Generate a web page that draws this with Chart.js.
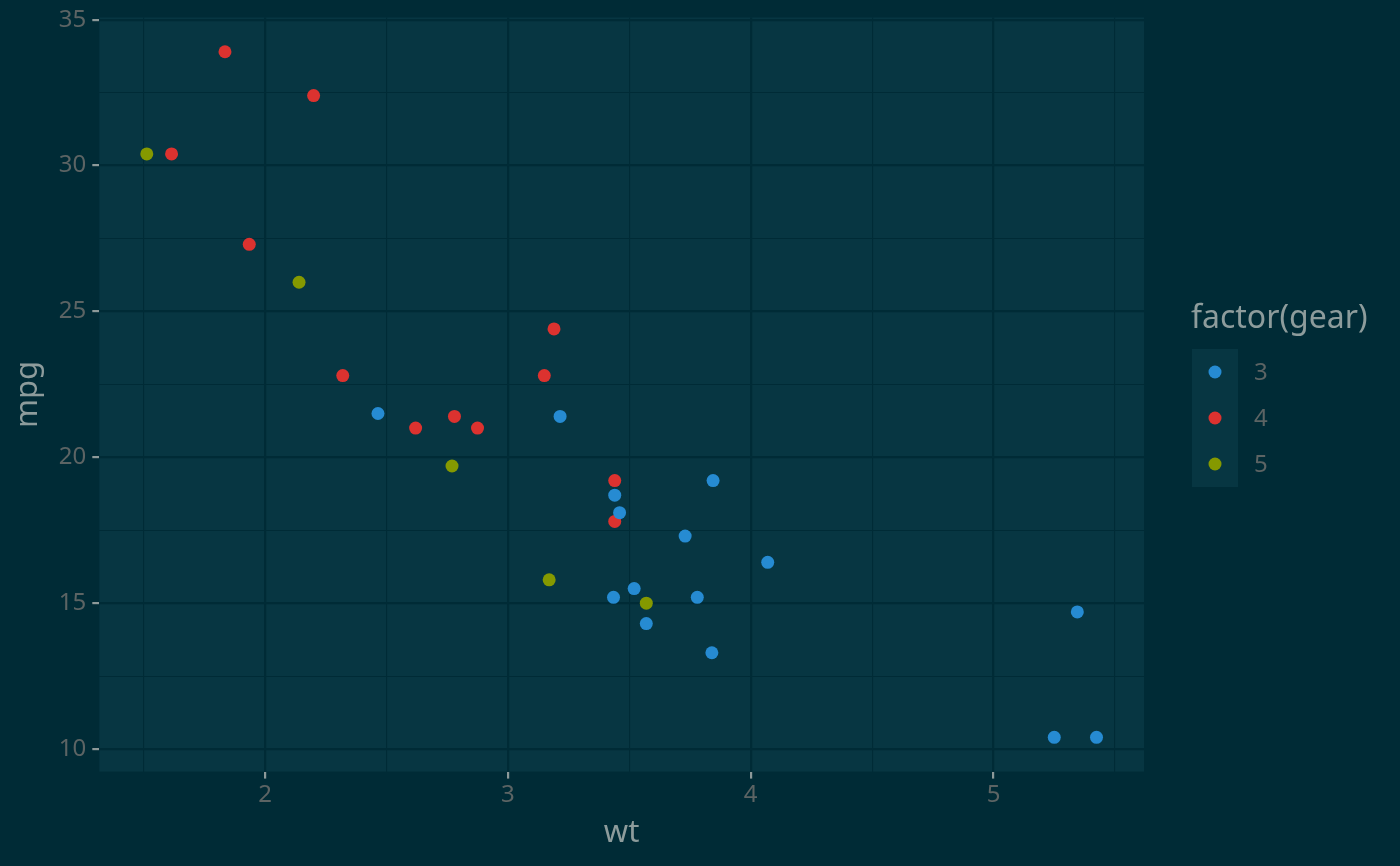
<!DOCTYPE html>
<html>
<head>
<meta charset="utf-8">
<script src="https://cdn.jsdelivr.net/npm/chart.js@4"></script>
<style>
  html, body { margin: 0; padding: 0; background: #002b36; }
  #wrap { width: 1400px; height: 866px; }
</style>
</head>
<body>
<div id="wrap"><canvas id="chart" width="1400" height="866"></canvas></div>
<script>
// mtcars: wt vs mpg, grouped by gear
const gearLevels = ['3', '4', '5'];
const gearColors = ['#268bd2', '#dc322f', '#859900'];

const wtGear3 = [3.215, 3.440, 3.460, 3.570, 4.070, 3.730, 3.780, 5.250, 5.424, 5.345, 2.465, 3.520, 3.435, 3.840, 3.845];
const mpgGear3 = [21.4, 18.7, 18.1, 14.3, 16.4, 17.3, 15.2, 10.4, 10.4, 14.7, 21.5, 15.5, 15.2, 13.3, 19.2];

const wtGear4 = [2.620, 2.875, 2.320, 3.190, 3.150, 3.440, 3.440, 2.200, 1.615, 1.835, 1.935, 2.780];
const mpgGear4 = [21.0, 21.0, 22.8, 24.4, 22.8, 19.2, 17.8, 32.4, 30.4, 33.9, 27.3, 21.4];

const wtGear5 = [2.140, 1.513, 3.170, 2.770, 3.570];
const mpgGear5 = [26.0, 30.4, 15.8, 19.7, 15.0];

const xMajorTicks = [2, 3, 4, 5];
const xMinorTicks = [1.5, 2.5, 3.5, 4.5, 5.5];
const yMajorTicks = [10, 15, 20, 25, 30, 35];
const yMinorTicks = [12.5, 17.5, 22.5, 27.5, 32.5];

const xRange = [1.31745, 5.61955];
const yRange = [9.225, 35.075];

function toPoints(xs, ys) {
    return xs.map((x, i) => ({ x: x, y: ys[i] }));
}

const seriesX = [wtGear3, wtGear4, wtGear5];
const seriesY = [mpgGear3, mpgGear4, mpgGear5];

const datasets = gearLevels.map((lvl, i) => ({
    label: lvl,
    data: toPoints(seriesX[i], seriesY[i]),
    backgroundColor: gearColors[i],
    borderWidth: 0,
    pointRadius: 6.5,
    pointHoverRadius: 6.5
}));

const panelFill = '#073642';
const gridColor = '#002b36';
const tickText = '#5c6464';
const titleText = '#8d9c9c';
const tickMark = '#8d9999';

function isMajor(v, majors) {
    return majors.some(m => Math.abs(m - v) < 1e-9);
}

// background + panel
const backdrop = {
    id: 'backdrop',
    beforeDraw(chart) {
        const { ctx, chartArea: a } = chart;
        ctx.save();
        ctx.fillStyle = '#002b36';
        ctx.fillRect(0, 0, chart.width, chart.height);
        ctx.fillStyle = panelFill;
        ctx.fillRect(a.left, a.top, a.right - a.left, a.bottom - a.top);
        ctx.restore();
    }
};

// ggplot-style legend at the right
const sideLegend = {
    id: 'sideLegend',
    afterDraw(chart) {
        const ctx = chart.ctx;
        ctx.save();
        ctx.fillStyle = titleText;
        ctx.font = '32px "Noto Sans"';
        ctx.textBaseline = 'alphabetic';
        ctx.fillText('factor(gear)', 1191, 328);
        ctx.fillStyle = panelFill;
        ctx.fillRect(1192, 349, 46, 138);
        chart.data.datasets.forEach((ds, i) => {
            const cy = 372 + i * 46;
            ctx.beginPath();
            ctx.arc(1215, cy, 6.5, 0, Math.PI * 2);
            ctx.fillStyle = ds.backgroundColor;
            ctx.fill();
            ctx.fillStyle = tickText;
            ctx.font = '24px "Noto Sans"';
            ctx.textBaseline = 'middle';
            ctx.fillText(ds.label, 1254, cy + 1);
        });
        ctx.restore();
    }
};

new Chart(document.getElementById('chart'), {
    type: 'scatter',
    data: { datasets: datasets },
    plugins: [backdrop, sideLegend],
    options: {
        responsive: false,
        animation: false,
        devicePixelRatio: 1,
        layout: { padding: { top: 17.5, right: 256, bottom: 0, left: 0 } },
        plugins: {
            legend: { display: false },
            tooltip: { enabled: false }
        },
        scales: {
            x: {
                type: 'linear',
                min: xRange[0],
                max: xRange[1],
                afterBuildTicks: (s) => {
                    s.ticks = xMinorTicks.concat(xMajorTicks).sort((a, b) => a - b).map(v => ({ value: v }));
                },
                afterFit: (s) => {
                    s.height = 94.4;
                    s.paddingLeft = 0;
                    s.paddingRight = 0;
                },
                border: { display: false },
                grid: {
                    color: gridColor,
                    lineWidth: (c) => isMajor(c.tick.value, xMajorTicks) ? 2.2 : 1.1,
                    drawTicks: true,
                    tickLength: 7,
                    tickWidth: 2.2,
                    tickColor: (c) => isMajor(c.tick.value, xMajorTicks) ? tickMark : 'rgba(0,0,0,0)'
                },
                ticks: {
                    color: tickText,
                    font: { family: 'Noto Sans', size: 24 },
                    padding: 2,
                    maxRotation: 0,
                    autoSkip: false,
                    callback: (v) => isMajor(v, xMajorTicks) ? String(v) : ''
                },
                title: {
                    display: true,
                    text: 'wt',
                    color: titleText,
                    font: { family: 'Noto Sans', size: 31 },
                    padding: { top: 0, bottom: 14 }
                }
            },
            y: {
                type: 'linear',
                min: yRange[0],
                max: yRange[1],
                afterBuildTicks: (s) => {
                    s.ticks = yMinorTicks.concat(yMajorTicks).sort((a, b) => a - b).map(v => ({ value: v }));
                },
                afterFit: (s) => {
                    s.width = 99.3;
                    s.paddingTop = 0;
                    s.paddingBottom = 0;
                },
                border: { display: false },
                grid: {
                    color: gridColor,
                    lineWidth: (c) => isMajor(c.tick.value, yMajorTicks) ? 2.2 : 1.1,
                    drawTicks: true,
                    tickLength: 7,
                    tickWidth: 2.2,
                    tickColor: (c) => isMajor(c.tick.value, yMajorTicks) ? tickMark : 'rgba(0,0,0,0)'
                },
                ticks: {
                    color: tickText,
                    font: { family: 'Noto Sans', size: 24 },
                    padding: 6,
                    autoSkip: false,
                    callback: (v) => isMajor(v, yMajorTicks) ? String(v) : ''
                },
                title: {
                    display: true,
                    text: 'mpg',
                    color: titleText,
                    font: { family: 'Noto Sans', size: 31 },
                    padding: { top: 10, bottom: 0 }
                }
            }
        }
    }
});
</script>
</body>
</html>
